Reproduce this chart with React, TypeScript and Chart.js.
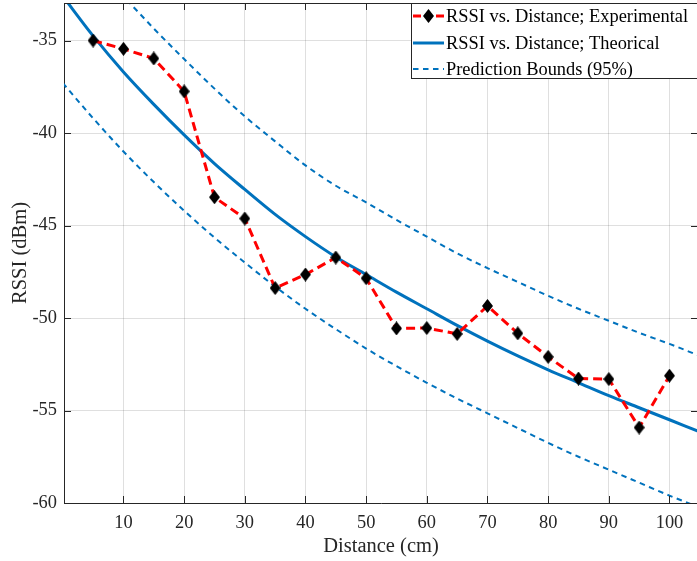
import React, { useEffect, useRef } from 'react';
import { Chart, registerables } from 'chart.js';

Chart.register(...registerables);

// ---- data ----
const distances = [5, 10, 15, 20, 25, 30, 35, 40, 45, 50, 55, 60, 65, 70, 75, 80, 85, 90, 95, 100];
const rssiExperimental = [-35.0, -35.45, -35.97, -37.75, -43.47, -44.62, -48.38, -47.65, -46.73, -47.85, -50.56, -50.54, -50.86, -49.35, -50.83, -52.1, -53.27, -53.3, -55.92, -53.12];

const fitDistances = [0, 5, 10, 15, 20, 25, 30, 35, 40, 45, 50, 55, 60, 65, 70, 75, 80, 85, 90, 95, 100, 105];
const rssiTheoretical = [-32.6, -34.75, -36.7, -38.45, -40.1, -41.65, -43.05, -44.4, -45.6, -46.7, -47.65, -48.6, -49.5, -50.4, -51.25, -52.05, -52.8, -53.5, -54.2, -54.85, -55.5, -56.15];
const lowerBound = [-37.3, -39.2, -41.0, -42.65, -44.2, -45.65, -47.0, -48.3, -49.5, -50.6, -51.65, -52.6, -53.5, -54.35, -55.15, -55.95, -56.75, -57.5, -58.2, -58.9, -59.6, -60.25];
const upperBound = [null, -30.8, -32.6, -34.35, -36.0, -37.6, -39.1, -40.45, -41.75, -42.85, -43.75, -44.7, -45.6, -46.5, -47.3, -48.05, -48.8, -49.5, -50.15, -50.8, -51.4, -52.05];

const xTickValues = [10, 20, 30, 40, 50, 60, 70, 80, 90, 100];
const yTickValues = [-60, -55, -50, -45, -40, -35];
const legendLabels = ['RSSI vs. Distance; Experimental', 'RSSI vs. Distance; Theorical', 'Prediction Bounds (95%)'];
const xTitle = 'Distance (cm)';
const yTitle = 'RSSI (dBm)';

// ---- styles ----
const FONT = '"Liberation Serif", "Times New Roman", serif';
const AXIS = '#262626';
const GRID = 'rgba(38,38,38,0.15)';
const RED = '#ff0000';
const BLUE = '#0072BD';
const RED_DASH = [9, 5];
const BLUE_DASH = [5.5, 4.5];

function makeDiamond(): HTMLCanvasElement {
  const c = document.createElement('canvas');
  const w = 11, h = 14;
  c.width = w; c.height = h;
  const g = c.getContext('2d')!;
  g.fillStyle = '#000';
  g.beginPath();
  g.moveTo(w / 2, 0);
  g.lineTo(w, h / 2);
  g.lineTo(w / 2, h);
  g.lineTo(0, h / 2);
  g.closePath();
  g.fill();
  return c;
}

const pts = (xs: number[], ys: (number | null)[]) => xs.map((x, i) => ({ x, y: ys[i] }));

const zeroPad = (s: any) => {
  s.paddingTop = 0; s.paddingBottom = 0; s.paddingLeft = 0; s.paddingRight = 0;
};

export default function App() {
  const ref = useRef<HTMLCanvasElement | null>(null);

  useEffect(() => {
    if (!ref.current) return;
    const diamond = makeDiamond();

    const decor = {
      id: 'decor',
      afterDatasetsDraw(chart: any) {
        const { ctx, chartArea: a, scales } = chart;
        const xs = scales.x, ys = scales.y;
        ctx.save();
        // box + inward ticks
        ctx.strokeStyle = AXIS;
        ctx.lineWidth = 1;
        ctx.setLineDash([]);
        ctx.beginPath();
        ctx.moveTo(a.left, a.top + 0.5);
        ctx.lineTo(a.right, a.top + 0.5);
        ctx.moveTo(a.right - 0.5, a.top);
        ctx.lineTo(a.right - 0.5, a.bottom);
        const tl = 7;
        xTickValues.forEach(v => {
          const px = Math.round(xs.getPixelForValue(v)) + 0.5;
          ctx.moveTo(px, a.bottom); ctx.lineTo(px, a.bottom - tl);
          ctx.moveTo(px, a.top); ctx.lineTo(px, a.top + tl);
        });
        yTickValues.forEach(v => {
          const py = Math.round(ys.getPixelForValue(v)) + 0.5;
          ctx.moveTo(a.left, py); ctx.lineTo(a.left + tl, py);
          ctx.moveTo(a.right, py); ctx.lineTo(a.right - tl, py);
        });
        ctx.stroke();

        // legend
        const lx = 411.5, ly = 3.5, lw = 320, lh = 75;
        ctx.fillStyle = '#ffffff';
        ctx.fillRect(lx, ly, lw, lh);
        ctx.strokeStyle = AXIS;
        ctx.lineWidth = 1;
        ctx.strokeRect(lx, ly, lw, lh);
        const rows = [16, 43, 69];
        const s0 = 413, s1 = 444, tx = 446;
        // row 1: experimental
        ctx.strokeStyle = RED; ctx.lineWidth = 3; ctx.setLineDash([]);
        ctx.beginPath();
        ctx.moveTo(s0, rows[0]); ctx.lineTo(s0 + 8, rows[0]);
        ctx.moveTo(s1 - 8, rows[0]); ctx.lineTo(s1, rows[0]);
        ctx.stroke();
        ctx.drawImage(diamond, (s0 + s1) / 2 - diamond.width / 2, rows[0] - diamond.height / 2);
        // row 2: theoretical
        ctx.strokeStyle = BLUE; ctx.lineWidth = 3;
        ctx.beginPath(); ctx.moveTo(s0, rows[1]); ctx.lineTo(s1, rows[1]); ctx.stroke();
        // row 3: bounds
        ctx.lineWidth = 2; ctx.setLineDash(BLUE_DASH);
        ctx.beginPath(); ctx.moveTo(s0, rows[2]); ctx.lineTo(s1, rows[2]); ctx.stroke();
        ctx.setLineDash([]);
        ctx.fillStyle = '#000';
        ctx.font = `18.4px ${FONT}`;
        ctx.textAlign = 'left';
        ctx.textBaseline = 'middle';
        legendLabels.forEach((t, i) => ctx.fillText(t, tx, rows[i] + 1));

        // axis titles
        ctx.fillStyle = AXIS;
        ctx.font = `20.5px ${FONT}`;
        ctx.textAlign = 'center';
        ctx.textBaseline = 'alphabetic';
        ctx.fillText(xTitle, (a.left + a.right) / 2, 551.5);
        ctx.save();
        ctx.translate(26, (a.top + a.bottom) / 2);
        ctx.rotate(-Math.PI / 2);
        ctx.fillText(yTitle, 0, 0);
        ctx.restore();
        ctx.restore();
      },
    };

    const chart = new Chart(ref.current, {
      type: 'scatter',
      data: {
        datasets: [
          {
            label: legendLabels[0],
            data: pts(distances, rssiExperimental),
            showLine: true,
            borderColor: RED,
            borderWidth: 3,
            borderDash: RED_DASH,
            pointStyle: diamond as any,
            pointRadius: 7,
            backgroundColor: '#000',
          },
          {
            label: legendLabels[1],
            data: pts(fitDistances, rssiTheoretical),
            showLine: true,
            borderColor: BLUE,
            borderWidth: 3,
            pointRadius: 0,
            cubicInterpolationMode: 'monotone',
            clip: 0,
          },
          {
            label: legendLabels[2],
            data: pts(fitDistances, upperBound),
            showLine: true,
            borderColor: BLUE,
            borderWidth: 2,
            borderDash: BLUE_DASH,
            pointRadius: 0,
            cubicInterpolationMode: 'monotone',
            clip: 0,
          },
          {
            label: legendLabels[2] + ' (lower)',
            data: pts(fitDistances, lowerBound),
            showLine: true,
            borderColor: BLUE,
            borderWidth: 2,
            borderDash: BLUE_DASH,
            pointRadius: 0,
            cubicInterpolationMode: 'monotone',
            clip: 0,
          },
        ],
      } as any,
      options: {
        responsive: false,
        animation: false,
        events: [],
        layout: { autoPadding: false, padding: { top: 3, right: 2, left: 0, bottom: 0 } },
        plugins: { legend: { display: false }, tooltip: { enabled: false } },
        scales: {
          x: {
            type: 'linear',
            min: 0.2,
            max: 104.7,
            afterFit: (s: any) => { s.height = 58; zeroPad(s); },
            afterBuildTicks: (s: any) => { s.ticks = xTickValues.map(v => ({ value: v })); },
            grid: { color: GRID, lineWidth: 1, drawTicks: false },
            border: { color: AXIS, width: 1 },
            ticks: {
              color: AXIS,
              font: { family: FONT, size: 18.4 },
              padding: 9,
              maxRotation: 0,
              autoSkip: false,
              callback: (v: any) => String(v),
            },
          },
          y: {
            type: 'linear',
            min: -60,
            max: -32.97,
            afterFit: (s: any) => { s.width = 64; zeroPad(s); },
            afterBuildTicks: (s: any) => { s.ticks = yTickValues.map(v => ({ value: v })); },
            grid: { color: GRID, lineWidth: 1, drawTicks: false },
            border: { color: AXIS, width: 1 },
            ticks: {
              color: AXIS,
              font: { family: FONT, size: 18.4 },
              padding: 7,
              autoSkip: false,
              callback: (v: any) => String(v),
            },
          },
        },
      } as any,
      plugins: [decor],
    });
    return () => chart.destroy();
  }, []);

  return (
    <div style={{ position: 'absolute', left: 0, top: 0, width: 697, height: 561, overflow: 'hidden', background: '#fff' }}>
      <canvas ref={ref} width={700} height={561} style={{ display: 'block' }} />
    </div>
  );
}
